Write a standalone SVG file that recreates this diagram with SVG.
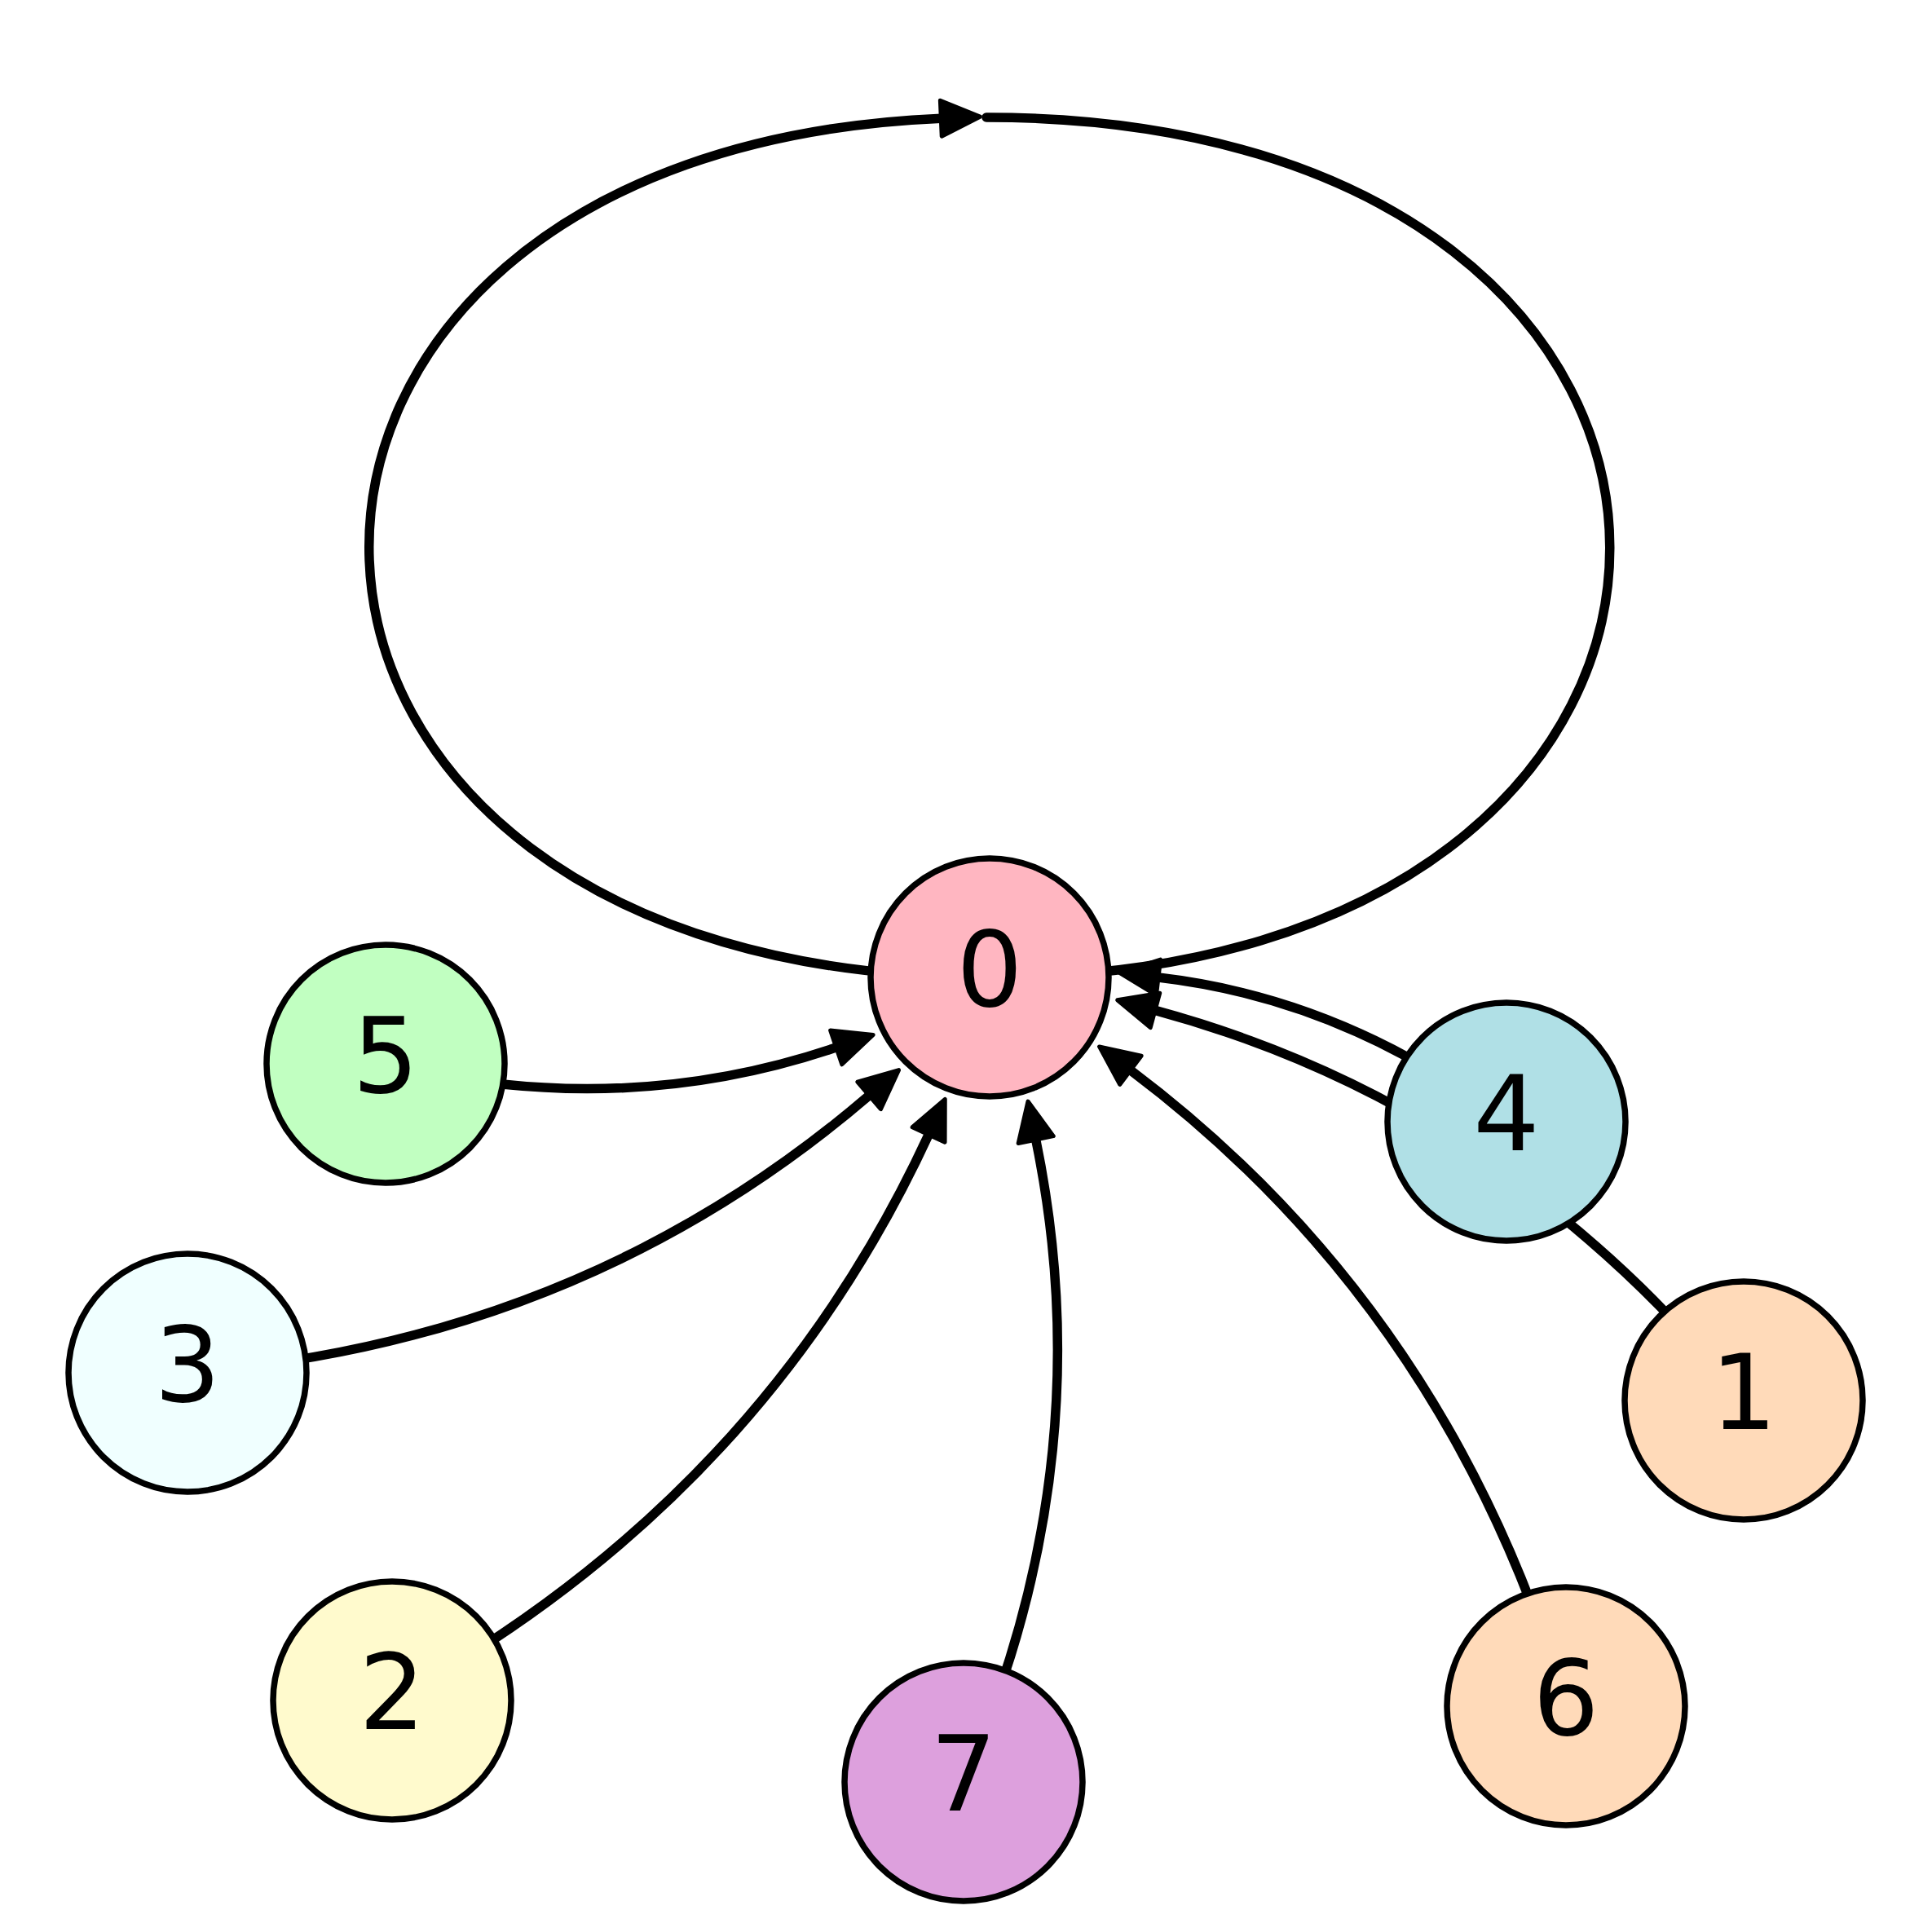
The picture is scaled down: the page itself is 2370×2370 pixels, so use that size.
<svg xmlns="http://www.w3.org/2000/svg" width="2370" height="2370" viewBox="0 0 2370 2370">
<style>
  .edge { fill: none; stroke: #000; stroke-width: 11.5; stroke-linecap: round; }
  .node circle { stroke: #000; stroke-width: 7.5; }
  .node text { font-family: "DejaVu Sans", sans-serif; font-size: 128px; text-anchor: middle; fill: #000; }
</style>
<defs>
  <marker id="arr" markerUnits="userSpaceOnUse" refX="0" refY="0" markerWidth="1" markerHeight="1" orient="auto" overflow="visible">
    <path d="M0,-22 L48,0 L0,22 Z" fill="#000" stroke="#000" stroke-width="5" stroke-linejoin="round"/>
  </marker>
</defs>
<rect width="2370" height="2370" fill="#ffffff"/>
<g id="connectors">
  <path id="e0-0" class="edge" d="M1210,144 C2229,144 2229,1199 1214,1199 C219.3,1199 199.4,185.8 1154.3,145.2" marker-end="url(#arr)"/>
  <path id="e5-0" class="edge" d="M473,1305 Q760.8,1374.9 1025.7,1284.9" marker-end="url(#arr)"/>
  <path id="e3-0" class="edge" d="M230,1684 Q713.4,1646.4 1066.1,1343.9" marker-end="url(#arr)"/>
  <path id="e2-0" class="edge" d="M481,2086 Q932,1839.8 1139.1,1392" marker-end="url(#arr)"/>
  <path id="e7-0" class="edge" d="M1182,2186 Q1352.8,1796.2 1270.7,1398.1" marker-end="url(#arr)"/>
  <path id="e6-0" class="edge" d="M1921,2093 Q1776.4,1606.1 1386.9,1312.8" marker-end="url(#arr)"/>
  <path id="e4-0" class="edge" d="M1848,1376 Q1651.7,1225.9 1421,1199" marker-end="url(#arr)"/>
  <path id="e1-0" class="edge" d="M2139,1718 Q1846.8,1356 1417,1239.4" marker-end="url(#arr)"/>
</g>
<g id="node0" class="node"><circle cx="1214" cy="1199" r="146" fill="#FFB6C1"/><text x="1214" y="1234">0</text></g>
<g id="node5" class="node"><circle cx="473" cy="1305" r="146" fill="#C1FFC1"/><text x="473" y="1340">5</text></g>
<g id="node3" class="node"><circle cx="230" cy="1684" r="146" fill="#F0FFFF"/><text x="230" y="1719">3</text></g>
<g id="node2" class="node"><circle cx="481" cy="2086" r="146" fill="#FFFACD"/><text x="481" y="2121">2</text></g>
<g id="node7" class="node"><circle cx="1182" cy="2186" r="146" fill="#DDA0DD"/><text x="1182" y="2221">7</text></g>
<g id="node6" class="node"><circle cx="1921" cy="2093" r="146" fill="#FFDAB9"/><text x="1921" y="2128">6</text></g>
<g id="node4" class="node"><circle cx="1848" cy="1376" r="146" fill="#B0E0E6"/><text x="1848" y="1411">4</text></g>
<g id="node1" class="node"><circle cx="2139" cy="1718" r="146" fill="#FFDAB9"/><text x="2139" y="1753">1</text></g>
</svg>
